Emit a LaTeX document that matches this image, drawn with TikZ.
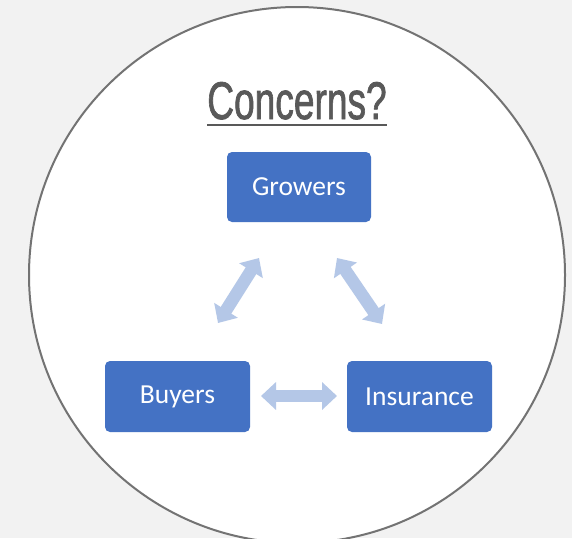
\documentclass[tikz,border=0pt]{standalone}
\usepackage{fontspec}
\setmainfont{Carlito}
\newfontfamily\titlefont[FakeBold=1.6]{Liberation Sans}
\usetikzlibrary{arrows.meta}
\definecolor{bgray}{HTML}{F2F2F2}
\definecolor{ringgray}{HTML}{737373}
\definecolor{titlegray}{HTML}{595959}
\definecolor{boxblue}{HTML}{4472C4}
\definecolor{arrowblue}{HTML}{B4C7E7}
\tikzset{
  box/.style={fill=boxblue, rounded corners=5pt, minimum width=144pt, minimum height=70pt,
    inner sep=0pt, text=white, font=\fontsize{27.5}{33}\selectfont},
  dblarrow/.style={draw=arrowblue, line width=12.5pt,
    {Triangle[width=27pt,length=15pt]}-{Triangle[width=27pt,length=15pt]}},
  titletext/.style={text=titlegray, inner sep=0pt, font=\titlefont\fontsize{53}{60}\selectfont}
}
\begin{document}
\begin{tikzpicture}[x=1pt,y=-1pt]
\useasboundingbox (0,0) rectangle (572,538);
\fill[bgray] (0,0) rectangle (572,538);
\begin{scope}
\clip (0,0) rectangle (572,538);
\draw[ringgray, fill=white, line width=2pt] (297,275) circle[radius=268];
\end{scope}
\node[titletext, anchor=base] (title) at (297,119) {\scalebox{0.70}[1]{Concerns?}};
\draw[titlegray, line width=2.5pt] (207,125) -- (387,125);
\node[box] (growers) at (299,187) {Growers};
\node[box, minimum width=145pt, minimum height=71pt] (buyers) at (177.5,396.5) {Buyers};
\node[box, minimum width=145pt, minimum height=71pt] (insurance) at (419.5,396.5) {Insurance};
\coordinate (l1) at (218,323);
\coordinate (l2) at (259,258);
\coordinate (r1) at (337,258);
\coordinate (r2) at (382,324);
\coordinate (b1) at (261,396);
\coordinate (b2) at (337,396);
\draw[dblarrow] (l1) -- (l2);
\draw[dblarrow] (r1) -- (r2);
\draw[dblarrow] (b1) -- (b2);
\end{tikzpicture}
\end{document}
